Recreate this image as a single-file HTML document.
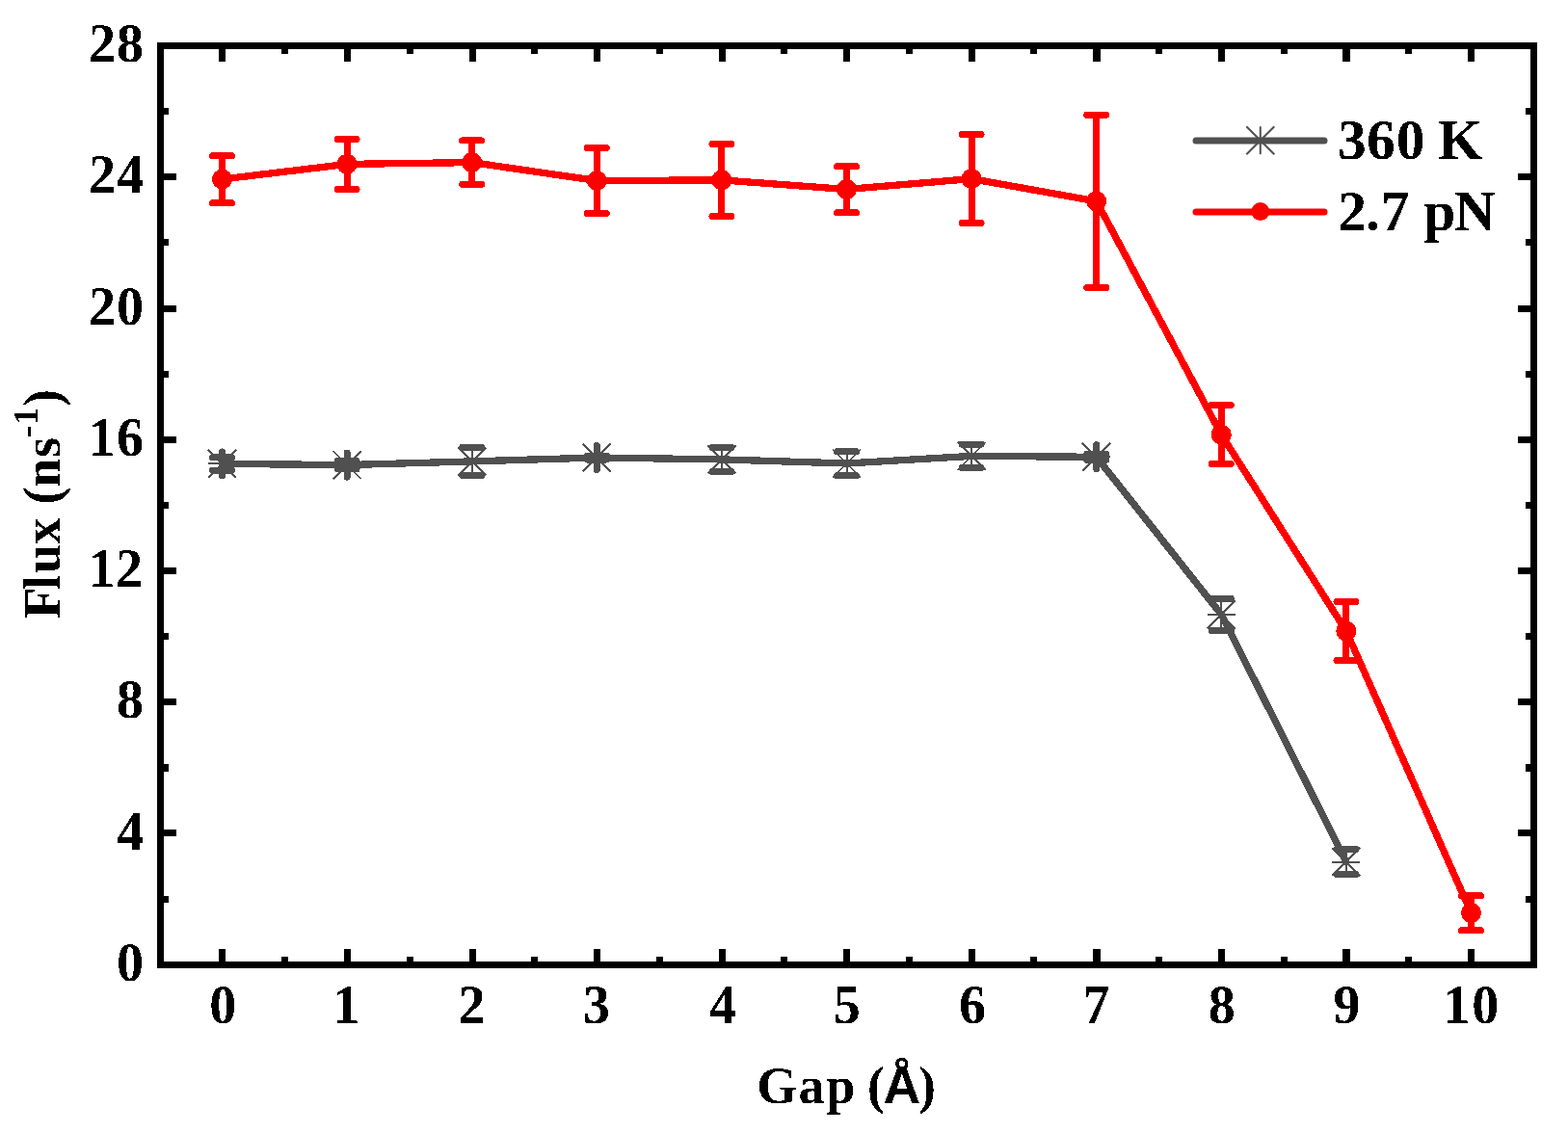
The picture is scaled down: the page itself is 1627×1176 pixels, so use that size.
<!DOCTYPE html>
<html lang="en"><head><meta charset="utf-8"><title>Flux vs Gap</title>
<style>html,body{margin:0;padding:0;background:#fff;overflow:hidden}svg{display:block}text{font-family:"Liberation Serif",serif;font-weight:bold;fill:#000}.sans{font-family:"Liberation Sans",sans-serif}</style></head><body>
<svg width="1627" height="1176" viewBox="0 0 1627 1176">
<defs><filter id="hard" x="-5%" y="-20%" width="110%" height="140%" color-interpolation-filters="sRGB"><feComponentTransfer><feFuncA type="discrete" tableValues="0 1"/></feComponentTransfer></filter></defs>
<rect width="1627" height="1176" fill="#fff"/>
<g fill="#000" shape-rendering="crispEdges">
<rect x="163" y="44" width="1432" height="7"/>
<rect x="163" y="998" width="1432" height="7"/>
<rect x="163" y="44" width="7" height="961"/>
<rect x="1588" y="44" width="7" height="961"/>
<rect x="227" y="51" width="7" height="13"/>
<rect x="227" y="985" width="7" height="13"/>
<rect x="292" y="51" width="7" height="5"/>
<rect x="292" y="993" width="7" height="5"/>
<rect x="357" y="51" width="7" height="13"/>
<rect x="357" y="985" width="7" height="13"/>
<rect x="422" y="51" width="7" height="5"/>
<rect x="422" y="993" width="7" height="5"/>
<rect x="487" y="51" width="7" height="13"/>
<rect x="487" y="985" width="7" height="13"/>
<rect x="551" y="51" width="7" height="5"/>
<rect x="551" y="993" width="7" height="5"/>
<rect x="616" y="51" width="7" height="13"/>
<rect x="616" y="985" width="7" height="13"/>
<rect x="681" y="51" width="7" height="5"/>
<rect x="681" y="993" width="7" height="5"/>
<rect x="746" y="51" width="7" height="13"/>
<rect x="746" y="985" width="7" height="13"/>
<rect x="810" y="51" width="7" height="5"/>
<rect x="810" y="993" width="7" height="5"/>
<rect x="875" y="51" width="7" height="13"/>
<rect x="875" y="985" width="7" height="13"/>
<rect x="940" y="51" width="7" height="5"/>
<rect x="940" y="993" width="7" height="5"/>
<rect x="1005" y="51" width="7" height="13"/>
<rect x="1005" y="985" width="7" height="13"/>
<rect x="1069" y="51" width="7" height="5"/>
<rect x="1069" y="993" width="7" height="5"/>
<rect x="1134" y="51" width="8" height="13"/>
<rect x="1134" y="985" width="8" height="13"/>
<rect x="1199" y="51" width="7" height="5"/>
<rect x="1199" y="993" width="7" height="5"/>
<rect x="1264" y="51" width="7" height="13"/>
<rect x="1264" y="985" width="7" height="13"/>
<rect x="1329" y="51" width="7" height="5"/>
<rect x="1329" y="993" width="7" height="5"/>
<rect x="1393" y="51" width="8" height="13"/>
<rect x="1393" y="985" width="8" height="13"/>
<rect x="1458" y="51" width="7" height="5"/>
<rect x="1458" y="993" width="7" height="5"/>
<rect x="1523" y="51" width="7" height="13"/>
<rect x="1523" y="985" width="7" height="13"/>
<rect x="170" y="930" width="5" height="7"/>
<rect x="1583" y="930" width="5" height="7"/>
<rect x="170" y="861" width="13" height="7"/>
<rect x="1575" y="861" width="13" height="7"/>
<rect x="170" y="793" width="5" height="8"/>
<rect x="1583" y="793" width="5" height="8"/>
<rect x="170" y="725" width="13" height="7"/>
<rect x="1575" y="725" width="13" height="7"/>
<rect x="170" y="657" width="5" height="7"/>
<rect x="1583" y="657" width="5" height="7"/>
<rect x="170" y="589" width="13" height="7"/>
<rect x="1575" y="589" width="13" height="7"/>
<rect x="170" y="521" width="5" height="7"/>
<rect x="1583" y="521" width="5" height="7"/>
<rect x="170" y="453" width="13" height="7"/>
<rect x="1575" y="453" width="13" height="7"/>
<rect x="170" y="385" width="5" height="7"/>
<rect x="1583" y="385" width="5" height="7"/>
<rect x="170" y="317" width="13" height="7"/>
<rect x="1575" y="317" width="13" height="7"/>
<rect x="170" y="248" width="5" height="7"/>
<rect x="1583" y="248" width="5" height="7"/>
<rect x="170" y="180" width="13" height="7"/>
<rect x="1575" y="180" width="13" height="7"/>
<rect x="170" y="112" width="5" height="7"/>
<rect x="1583" y="112" width="5" height="7"/>
</g>
<g stroke="#505050" fill="none" stroke-linecap="round" stroke-linejoin="round" shape-rendering="crispEdges">
<polyline points="230.5,481.4 360.1,482.6 489.7,478.9 619.3,475.0 748.9,476.9 878.5,481.0 1008.1,473.4 1137.7,474.3 1267.3,637.9 1396.9,894.5" stroke-width="7.3"/>
<path d="M216.0 466.9L245.0 495.9M216.0 495.9L245.0 466.9M216.0 481.4H245.0M230.5 466.9V495.9" stroke-width="2" stroke-linecap="butt"/>
<path d="M220.5 474.6H240.5M220.5 488.1H240.5M230.5 468.9V493.9" stroke-width="7"/>
<path d="M345.6 468.1L374.6 497.1M345.6 497.1L374.6 468.1M345.6 482.6H374.6M360.1 468.1V497.1" stroke-width="2" stroke-linecap="butt"/>
<path d="M350.1 478.4H370.1M350.1 486.8H370.1M360.1 470.1V495.1" stroke-width="7"/>
<path d="M475.2 464.4L504.2 493.4M475.2 493.4L504.2 464.4M475.2 478.9H504.2M489.7 464.4V493.4" stroke-width="2" stroke-linecap="butt"/>
<path d="M479.7 464.3H499.7M479.7 493.5H499.7" stroke-width="7"/>
<path d="M604.8 460.5L633.8 489.5M604.8 489.5L633.8 460.5M604.8 475.0H633.8M619.3 460.5V489.5" stroke-width="2" stroke-linecap="butt"/>
<path d="M609.3 473.0H629.3M609.3 477.0H629.3M619.3 462.5V487.5" stroke-width="7"/>
<path d="M734.4 462.4L763.4 491.4M734.4 491.4L763.4 462.4M734.4 476.9H763.4M748.9 462.4V491.4" stroke-width="2" stroke-linecap="butt"/>
<path d="M738.9 464.3H758.9M738.9 489.5H758.9" stroke-width="7"/>
<path d="M864.0 466.5L893.0 495.5M864.0 495.5L893.0 466.5M864.0 481.0H893.0M878.5 466.5V495.5" stroke-width="2" stroke-linecap="butt"/>
<path d="M868.5 468.5H888.5M868.5 493.5H888.5" stroke-width="7"/>
<path d="M993.6 458.9L1022.6 487.9M993.6 487.9L1022.6 458.9M993.6 473.4H1022.6M1008.1 458.9V487.9" stroke-width="2" stroke-linecap="butt"/>
<path d="M998.1 461.1H1018.1M998.1 485.7H1018.1" stroke-width="7"/>
<path d="M1123.2 459.8L1152.2 488.8M1123.2 488.8L1152.2 459.8M1123.2 474.3H1152.2M1137.7 459.8V488.8" stroke-width="2" stroke-linecap="butt"/>
<path d="M1127.7 471.3H1147.7M1127.7 477.3H1147.7M1137.7 461.8V486.8" stroke-width="7"/>
<path d="M1252.8 623.4L1281.8 652.4M1252.8 652.4L1281.8 623.4M1252.8 637.9H1281.8M1267.3 623.4V652.4" stroke-width="2" stroke-linecap="butt"/>
<path d="M1257.3 621.3H1277.3M1257.3 654.5H1277.3" stroke-width="7"/>
<path d="M1382.4 880.0L1411.4 909.0M1382.4 909.0L1411.4 880.0M1382.4 894.5H1411.4M1396.9 880.0V909.0" stroke-width="2" stroke-linecap="butt"/>
<path d="M1386.9 881.3H1406.9M1386.9 907.7H1406.9" stroke-width="7"/>
</g>
<g stroke="#ff0000" fill="none" stroke-linecap="round" stroke-linejoin="round" shape-rendering="crispEdges">
<polyline points="230.5,186.0 360.1,170.4 489.7,168.6 619.3,187.5 748.9,186.9 878.5,196.5 1008.1,185.6 1137.7,208.9 1267.3,451.1 1396.9,655.1 1526.5,947.5" stroke-width="7.3"/>
<path d="M230.5 161.5V210.5M220.5 161.5H240.5M220.5 210.5H240.5" stroke-width="7"/>
<circle cx="230.5" cy="186.0" r="10.5" fill="#ff0000" stroke="none"/>
<path d="M360.1 144.4V196.4M350.1 144.4H370.1M350.1 196.4H370.1" stroke-width="7"/>
<circle cx="360.1" cy="170.4" r="10.5" fill="#ff0000" stroke="none"/>
<path d="M489.7 145.9V191.3M479.7 145.9H499.7M479.7 191.3H499.7" stroke-width="7"/>
<circle cx="489.7" cy="168.6" r="10.5" fill="#ff0000" stroke="none"/>
<path d="M619.3 153.5V221.5M609.3 153.5H629.3M609.3 221.5H629.3" stroke-width="7"/>
<circle cx="619.3" cy="187.5" r="10.5" fill="#ff0000" stroke="none"/>
<path d="M748.9 149.4V224.4M738.9 149.4H758.9M738.9 224.4H758.9" stroke-width="7"/>
<circle cx="748.9" cy="186.9" r="10.5" fill="#ff0000" stroke="none"/>
<path d="M878.5 172.5V220.5M868.5 172.5H888.5M868.5 220.5H888.5" stroke-width="7"/>
<circle cx="878.5" cy="196.5" r="10.5" fill="#ff0000" stroke="none"/>
<path d="M1008.1 139.6V231.6M998.1 139.6H1018.1M998.1 231.6H1018.1" stroke-width="7"/>
<circle cx="1008.1" cy="185.6" r="10.5" fill="#ff0000" stroke="none"/>
<path d="M1137.7 119.3V298.5M1127.7 119.3H1147.7M1127.7 298.5H1147.7" stroke-width="7"/>
<circle cx="1137.7" cy="208.9" r="10.5" fill="#ff0000" stroke="none"/>
<path d="M1267.3 420.6V481.6M1257.3 420.6H1277.3M1257.3 481.6H1277.3" stroke-width="7"/>
<circle cx="1267.3" cy="451.1" r="10.5" fill="#ff0000" stroke="none"/>
<path d="M1396.9 624.6V685.6M1386.9 624.6H1406.9M1386.9 685.6H1406.9" stroke-width="7"/>
<circle cx="1396.9" cy="655.1" r="10.5" fill="#ff0000" stroke="none"/>
<path d="M1526.5 929.5V965.5M1516.5 929.5H1536.5M1516.5 965.5H1536.5" stroke-width="7"/>
<circle cx="1526.5" cy="947.5" r="10.5" fill="#ff0000" stroke="none"/>
</g>
<g stroke-linecap="round" fill="none">
<path d="M1241 146H1374" stroke="#505050" stroke-width="7"/>
<path d="M1293.3 131.3L1322.3 160.3M1293.3 160.3L1322.3 131.3M1307.8 131.3V160.3" stroke="#505050" stroke-width="2" stroke-linecap="butt"/>
<path d="M1241 220H1374" stroke="#ff0000" stroke-width="7"/>
<circle cx="1307.8" cy="219.6" r="9.5" fill="#ff0000"/>
</g>
<g filter="url(#hard)">
<text x="1388 1418.1 1448.8 1477.6 1492.1" y="165" font-size="59.5">360 K</text>
<text x="1388.3 1417.1 1432.7 1462.6 1477.3 1508.8" y="239" font-size="59.5">2.7 pN</text>
<text x="217.2" y="1062" font-size="56">0</text>
<text x="345.5" y="1062" font-size="56">1</text>
<text x="475.6" y="1062" font-size="56">2</text>
<text x="605.1" y="1062" font-size="56">3</text>
<text x="736.1" y="1062" font-size="56">4</text>
<text x="864.8" y="1062" font-size="56">5</text>
<text x="995.1" y="1062" font-size="56">6</text>
<text x="1123.4" y="1062" font-size="56">7</text>
<text x="1253.7" y="1062" font-size="56">8</text>
<text x="1383.4" y="1062" font-size="56">9</text>
<text x="1497.4 1527.3" y="1062" font-size="56">10</text>
<text x="121.1" y="1018" font-size="56">0</text>
<text x="121.2" y="882" font-size="56">4</text>
<text x="121.1" y="745" font-size="56">8</text>
<text x="91.7 120.1" y="609" font-size="56">12</text>
<text x="91.7 120.9" y="473" font-size="56">16</text>
<text x="92 121.1" y="337" font-size="56">20</text>
<text x="92 121.2" y="200" font-size="56">24</text>
<text x="92 121.1" y="64" font-size="56">28</text>
<text y="1145" font-size="54"><tspan x="785.2 828.4 857.3 886.2 900.1">Gap (</tspan><tspan class="sans" font-size="53.5" x="916.5">Å</tspan><tspan x="952.9">)</tspan></text>
<text transform="translate(62 642.0) rotate(-90)" font-size="54"><tspan x="-0.3 29.9 46.9 77.4 105.2 118.6 136.2 166.9" y="0">Flux (ns</tspan><tspan font-size="36.5" x="187.8 200.8" y="-23.2">-1</tspan><tspan x="220" y="0">)</tspan></text>
</g>
</svg></body></html>
